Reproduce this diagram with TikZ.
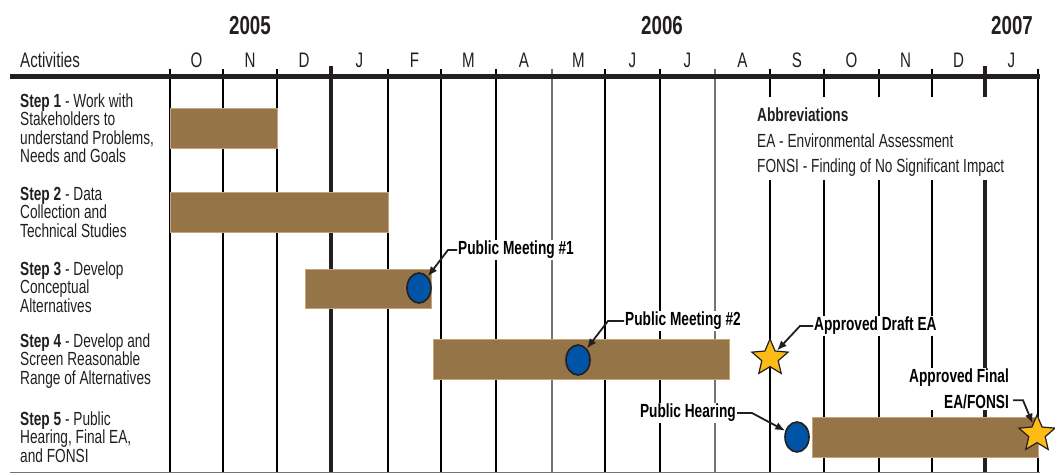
\documentclass[tikz,border=0pt]{standalone}
\usepackage{fontspec}
\setmainfont[FakeStretch=0.72]{Liberation Sans}
\usetikzlibrary{shapes.geometric,arrows.meta}

\definecolor{barbrown}{RGB}{149,117,72}
\definecolor{baredge}{RGB}{196,166,122}
\definecolor{meetblue}{RGB}{0,84,166}
\definecolor{stargold}{RGB}{253,187,22}
\definecolor{rule}{RGB}{35,31,32}
\definecolor{midgray}{RGB}{115,115,115}

\tikzset{
  bar/.style={fill=barbrown, draw=baredge, line width=0.8pt},
  meeting/.style={ellipse, draw=rule, line width=1.6pt, fill=meetblue,
    minimum width=24pt, minimum height=30pt, inner sep=0pt},
  milestone/.style={star, star points=5, star point ratio=2.2, draw=rule,
    line width=1.2pt, fill=stargold, minimum size=38pt, inner sep=0pt},
  callout/.style={fill=white, inner sep=1pt, font=\fontsize{19}{26}\selectfont\bfseries},
  pointer/.style={rule, line width=1.8pt, -{Latex[length=10pt,width=8pt]}},
  steplabel/.style={anchor=west, align=left, inner sep=0pt, text=rule,
    font=\fontsize{19}{18.5}\selectfont},
  abbrev/.style={anchor=base west, inner sep=0pt, text=rule,
    font=\fontsize{19}{19}\selectfont},
  month/.style={anchor=base, inner sep=0pt, text=rule, font=\fontsize{21}{21}\selectfont},
  year/.style={anchor=base, inner sep=0pt, text=rule, font=\fontsize{26}{26}\selectfont\bfseries},
}

\begin{document}
\begin{tikzpicture}[x=1pt,y=-1pt]
    \useasboundingbox (0,0) rectangle (1055,473);

    % month grid
    \foreach \x/\c in {170/black,223/black,277/black,388/black,441/black,496/black,
        552/midgray,605/black,660/black,715/midgray,770/black,824/black,879/black,
        932/black,1038/black}
        \draw[\c, line width=1.2pt] (\x,69) -- (\x,472);
    \foreach \x in {331,985}
        \draw[rule, line width=4pt] (\x,66) -- (\x,472);
    \draw[rule, line width=5pt] (10,77) -- (1040,77);
    \draw[midgray, line width=1pt] (10,472) -- (1040,472);

    % header
    \node[anchor=base west, inner sep=0pt, text=rule, font=\fontsize{21}{21}\selectfont]
        (act) at (20,68) {Activities};
    \foreach \m/\x [count=\i] in {O/196.5,N/250,D/304,J/359.5,F/414.5,M/468.5,A/524,
        M/578.5,J/632.5,J/687.5,A/742.5,S/797,O/851.5,N/905.5,D/958.5,J/1011.5}
        \node[month] (mon\i) at (\x,68) {\m};
    \node[year] (y2005) at (250,35) {2005};
    \node[year] (y2006) at (662,35) {2006};
    \node[year] (y2007) at (1012,35) {2007};

    % activities
    \node[steplabel] (s1) at (20,128) {\textbf{Step 1} - Work with\\Stakeholders to\\understand Problems,\\Needs and Goals};
    \node[steplabel] (s2) at (20,212) {\textbf{Step 2} - Data\\Collection and\\Technical Studies};
    \node[steplabel] (s3) at (20,287) {\textbf{Step 3} - Develop\\Conceptual\\Alternatives};
    \node[steplabel] (s4) at (20,361) {\textbf{Step 4} - Develop and\\Screen Reasonable\\Range of Alternatives};
    \node[steplabel] (s5) at (20,437) {\textbf{Step 5} - Public\\Hearing, Final EA,\\and FONSI};

    % bars
    \fill[bar] (170,108) rectangle (277,148);
    \fill[bar] (170,192) rectangle (388,232);
    \fill[bar] (305,269) rectangle (431,308);
    \fill[bar] (433,339) rectangle (729,379);
    \fill[bar] (812,417) rectangle (1038,457);

    % abbreviations
    \fill[white] (745,97) rectangle (1028,180);
    \node[abbrev, font=\fontsize{19}{19}\selectfont\bfseries] (abbr) at (757,122) {Abbreviations};
    \node[abbrev] (ea) at (757,148) {EA - Environmental Assessment};
    \node[abbrev] (fonsi) at (757,173) {FONSI - Finding of No Significant Impact};

    % milestones
    \node[meeting] (m1) at (419,288) {};
    \node[meeting] (m2) at (578,360) {};
    \node[meeting] (m3) at (797,437) {};
    \node[milestone] (draft) at (770,358) {};
    \node[milestone] (final) at (1037,434) {};

    \node[callout, anchor=west] (pm1) at (457,250) {Public Meeting \#1};
    \node[callout, anchor=west] (pm2) at (624,321) {Public Meeting \#2};
    \node[callout, anchor=west] (pdraft) at (813,326) {Approved Draft EA};
    \node[callout, anchor=east] (hear) at (737,413) {Public Hearing};
    \node[callout, anchor=east, align=right] (pfinal) at (1010,389) {Approved Final\\EA/FONSI};

    \draw[pointer] (pm1.west) -- ++(-9,0) -- (m1);
    \draw[pointer] (pm2.west) -- ++(-16,0) -- (m2);
    \draw[pointer] (pdraft.west) -- ++(-13,0) -- (draft);
    \draw[pointer] (hear.east) -- ++(15,0) -- (m3);
    \draw[pointer] ([xshift=3pt,yshift=10pt]pfinal.south east) -- ++(10,0) -- (final);
\end{tikzpicture}
\end{document}
